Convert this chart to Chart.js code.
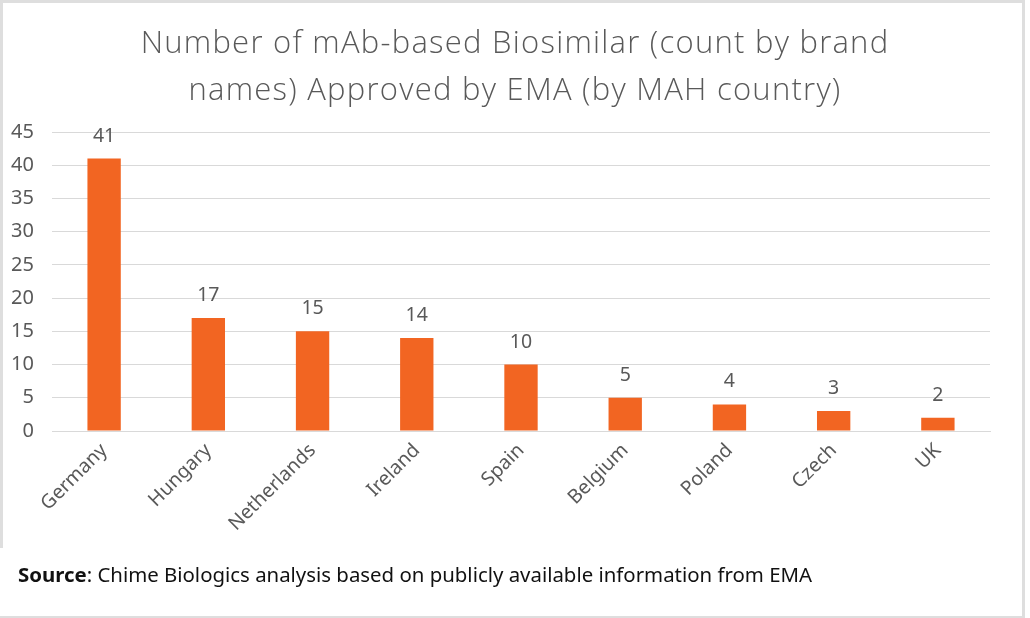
<!DOCTYPE html>
<html>
<head>
<meta charset="utf-8">
<script src="https://cdn.jsdelivr.net/npm/chart.js@4.4.1/dist/chart.umd.min.js"></script>
<style>
  html, body { margin: 0; padding: 0; background: #fff; }
  #wrap { position: relative; width: 1030px; height: 618px; overflow: hidden; }
  #c { position: absolute; left: 0; top: 0; }
  #frame { position: absolute; left: 0; top: 0; width: 1022px; height: 613px;
           border-top: 3px solid #dedede; border-right: 3px solid #dedede; border-bottom: 2px solid #dedede; }
  #leftline { position: absolute; left: 0; top: 0; width: 3px; height: 548px; background: #dedede; }
  #title { position: absolute; left: 0; top: 18px; width: 1030px; text-align: center;
           font-family: "Open Sans", "Noto Sans", sans-serif; font-weight: 300; font-size: 31px;
           letter-spacing: 1.25px; line-height: 47px; color: #595959; white-space: nowrap; }
  #source { position: absolute; left: 18px; top: 560px; font-family: "Noto Sans", "Open Sans", sans-serif;
            font-size: 20.4px; color: #111; white-space: nowrap; }
</style>
</head>
<body>
<div id="wrap">
  <canvas id="c" width="1030" height="618"></canvas>
  <div id="title"></div>
  <div id="frame"></div>
  <div id="leftline"></div>
  <div id="source"><b>Source</b>: Chime Biologics analysis based on publicly available information from EMA</div>
</div>
<script>
const categories = ["Germany", "Hungary", "Netherlands", "Ireland", "Spain", "Belgium", "Poland", "Czech", "UK"];
const counts = [41, 17, 15, 14, 10, 5, 4, 3, 2];
const titleLines = ["Number of mAb-based Biosimilar (count by brand", "names) Approved by EMA (by MAH country)"];
const yMin = 0, yMax = 45, yStep = 5;

const GREY = "#595959";
const ORANGE = "#F26522";

document.getElementById("title").innerHTML = titleLines.map(s => s.replace(/&/g, "&amp;")).join("<br>");

const valueLabels = {
  id: "valueLabels",
  afterDatasetsDraw(chart) {
    const ctx = chart.ctx;
    const meta = chart.getDatasetMeta(0);
    ctx.save();
    ctx.font = "19.5px 'Noto Sans', 'Open Sans', sans-serif";
    ctx.fillStyle = GREY;
    ctx.textAlign = "center";
    ctx.textBaseline = "alphabetic";
    meta.data.forEach((bar, i) => {
      ctx.fillText(String(counts[i]), bar.x, bar.y - 17);
    });
    ctx.restore();
  }
};

new Chart(document.getElementById("c"), {
  type: "bar",
  data: {
    labels: categories,
    datasets: [{
      data: counts,
      backgroundColor: ORANGE,
      borderWidth: 0,
      barPercentage: 0.32,
      categoryPercentage: 1.0
    }]
  },
  options: {
    responsive: false,
    animation: false,
    layout: { padding: { left: 0, right: 40, top: 132, bottom: 0 } },
    plugins: {
      legend: { display: false },
      tooltip: { enabled: false },
      title: { display: false }
    },
    scales: {
      x: {
        grid: { display: false, drawTicks: false },
        border: { display: true, color: "#d9d9d9", width: 1 },
        ticks: {
          color: GREY,
          font: { family: "'Noto Sans', 'Open Sans', sans-serif", size: 19.5 },
          minRotation: 45,
          maxRotation: 45,
          padding: 8
        },
        afterFit(scale) { scale.height = 187; }
      },
      y: {
        min: yMin,
        max: yMax,
        grid: { color: "#d9d9d9", lineWidth: 1, drawTicks: false },
        border: { display: false },
        ticks: {
          stepSize: yStep,
          color: GREY,
          font: { family: "'Noto Sans', 'Open Sans', sans-serif", size: 20 },
          padding: 18
        },
        afterFit(scale) { scale.width = 52; }
      }
    }
  },
  plugins: [valueLabels]
});
</script>
</body>
</html>
